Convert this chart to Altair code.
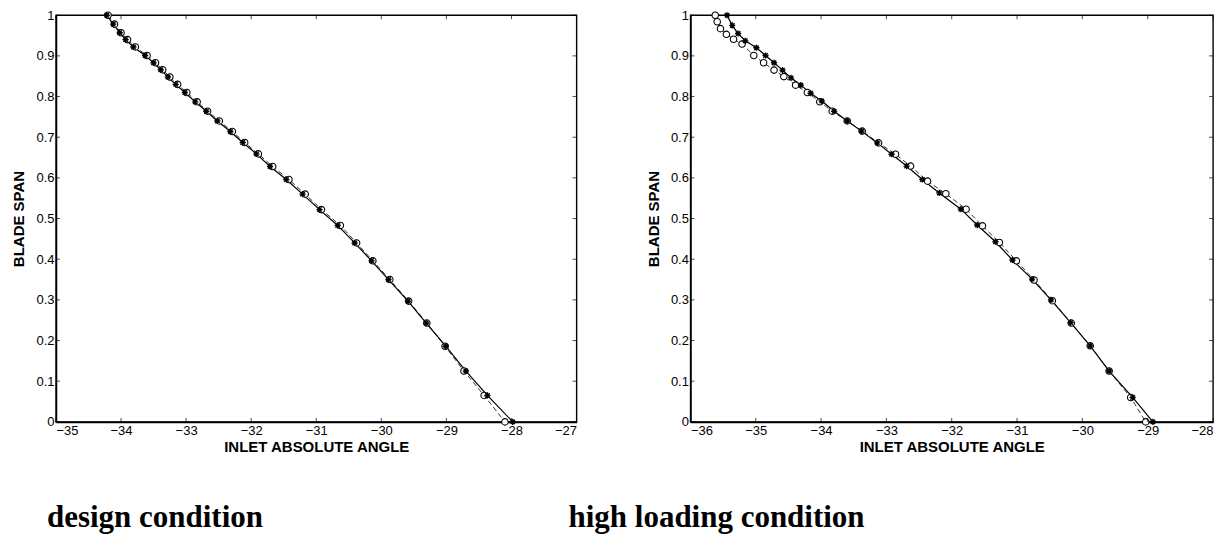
import altair as alt
import pandas as pd

# ---------------- data ----------------
# design condition
left_y = [1.0, 0.978, 0.957, 0.94, 0.922, 0.901, 0.883, 0.866, 0.848, 0.83, 0.81,
          0.787, 0.764, 0.74, 0.714, 0.687, 0.659, 0.628, 0.596, 0.56, 0.522,
          0.483, 0.44, 0.396, 0.35, 0.297, 0.243, 0.186, 0.125, 0.065, 0.0]
left_solid_x = [-34.22, -34.12, -34.02, -33.93, -33.81, -33.63, -33.50, -33.39, -33.28,
                -33.16, -33.02, -32.86, -32.69, -32.52, -32.32, -32.13, -31.92, -31.71,
                -31.46, -31.21, -30.95, -30.67, -30.41, -30.15, -29.89, -29.59, -29.31,
                -29.01, -28.70, -28.37, -27.98]
left_dash_x = [-34.20, -34.10, -34.00, -33.90, -33.78, -33.60, -33.47, -33.36, -33.25,
               -33.13, -32.99, -32.83, -32.67, -32.49, -32.29, -32.10, -31.89, -31.67,
               -31.42, -31.17, -30.92, -30.63, -30.38, -30.13, -29.87, -29.58, -29.30,
               -29.02, -28.73, -28.42, -28.10]

# high loading condition
right_solid_y = [1.0, 0.975, 0.955, 0.937, 0.92, 0.901, 0.883, 0.865, 0.846, 0.828,
                 0.808, 0.789, 0.764, 0.74, 0.715, 0.686, 0.658, 0.629, 0.596, 0.563,
                 0.523, 0.484, 0.443, 0.398, 0.351, 0.30, 0.244, 0.187, 0.125, 0.06, 0.0]
right_solid_x = [-35.44, -35.36, -35.27, -35.16, -34.99, -34.85, -34.72, -34.59, -34.46,
                 -34.31, -34.16, -33.99, -33.80, -33.60, -33.38, -33.14, -32.92, -32.69,
                 -32.45, -32.19, -31.86, -31.61, -31.33, -31.07, -30.77, -30.48, -30.18,
                 -29.88, -29.59, -29.23, -28.92]
right_dash_y = [1.0, 0.984, 0.967, 0.953, 0.941, 0.929, 0.901, 0.883, 0.865, 0.849,
                0.828, 0.81, 0.787, 0.764, 0.74, 0.715, 0.686, 0.658, 0.629, 0.592,
                0.561, 0.523, 0.482, 0.441, 0.396, 0.349, 0.298, 0.243, 0.187, 0.125,
                0.06, 0.0]
right_dash_x = [-35.62, -35.59, -35.54, -35.45, -35.34, -35.21, -35.03, -34.88, -34.72,
                -34.57, -34.39, -34.21, -34.02, -33.83, -33.60, -33.37, -33.12, -32.86,
                -32.63, -32.37, -32.09, -31.78, -31.53, -31.27, -31.01, -30.74, -30.46,
                -30.17, -29.88, -29.59, -29.26, -29.03]

left_xticks = [-35, -34, -33, -32, -31, -30, -29, -28, -27]
right_xticks = [-36, -35, -34, -33, -32, -31, -30, -29, -28]
yticks = [0, 0.1, 0.2, 0.3, 0.4, 0.5, 0.6, 0.7, 0.8, 0.9, 1.0]

x_title = "INLET ABSOLUTE ANGLE"
y_title = "BLADE SPAN"
captions = ["design condition", "high loading condition"]

ASTERISK = "M-1,0L1,0M0,-1L0,1M-0.72,-0.72L0.72,0.72M-0.72,0.72L0.72,-0.72"


def panel(solid_x, solid_y, dash_x, dash_y, xticks, caption, dx, width):
    xmin, xmax = xticks[0], xticks[-1]
    solid = pd.DataFrame({"x": solid_x, "y": solid_y})
    dash = pd.DataFrame({"x": dash_x, "y": dash_y})
    xs = alt.Scale(domain=[xmin, xmax], nice=False, zero=False)
    ys = alt.Scale(domain=[0, 1], nice=False, zero=False)
    xenc = alt.X("x:Q", scale=xs, title=x_title,
                 axis=alt.Axis(values=xticks, format="d", grid=False, ticks=False,
                               domain=True, domainColor="black", domainWidth=1.6,
                               labelPadding=3, titlePadding=2))
    yenc = alt.Y("y:Q", scale=ys, title=y_title,
                 axis=alt.Axis(values=yticks, format=".1~f", grid=False, ticks=False,
                               domain=True, domainColor="black", domainWidth=1.6,
                               labelPadding=2, titlePadding=9))
    order = alt.Order("y:Q", sort="descending")

    dash_line = alt.Chart(dash).mark_line(color="#333333", strokeWidth=1,
                                          strokeDash=[5, 3]).encode(x=xenc, y=yenc, order=order)
    solid_line = alt.Chart(solid).mark_line(color="black", strokeWidth=1.2).encode(
        x=xenc, y=yenc, order=order)
    circles = alt.Chart(dash).mark_point(shape="circle", filled=True, color="white",
                                         stroke="black", strokeWidth=1.1, size=42,
                                         opacity=1).encode(x=xenc, y=yenc)
    stars = alt.Chart(solid).mark_point(shape=ASTERISK, filled=False, color="black",
                                        strokeWidth=1.4, size=38, opacity=1).encode(
        x=xenc, y=yenc)

    # small inward tick marks on all four sides (tick values at the frame edges)
    tb = pd.DataFrame({"x": xticks, "y": [0] * len(xticks)})
    tt = pd.DataFrame({"x": xticks, "y": [1] * len(xticks)})
    tl = pd.DataFrame({"x": [xmin] * len(yticks), "y": yticks})
    tr = pd.DataFrame({"x": [xmax] * len(yticks), "y": yticks})
    bottom_t = alt.Chart(tb).mark_tick(orient="vertical", size=4, thickness=1,
                                       color="black", yOffset=-2).encode(x=xenc, y=yenc)
    top_t = alt.Chart(tt).mark_tick(orient="vertical", size=4, thickness=1,
                                    color="black", yOffset=2).encode(x=xenc, y=yenc)
    left_t = alt.Chart(tl).mark_tick(orient="horizontal", size=4, thickness=1,
                                     color="black", xOffset=2).encode(x=xenc, y=yenc)
    right_t = alt.Chart(tr).mark_tick(orient="horizontal", size=4, thickness=1,
                                      color="black", xOffset=-2).encode(x=xenc, y=yenc)

    return alt.layer(dash_line, solid_line, circles, stars,
                     bottom_t, top_t, left_t, right_t).properties(
        width=width, height=407,
        title=alt.TitleParams(caption, orient="bottom", anchor="start", frame="group",
                              dx=dx, offset=48, font="Liberation Serif", fontSize=31,
                              fontWeight="bold", color="black"))


left = panel(left_solid_x, left_y, left_dash_x, left_y, left_xticks, captions[0], -9, 521)
right = panel(right_solid_x, right_solid_y, right_dash_x, right_dash_y, right_xticks,
              captions[1], -122, 523)

chart = alt.hconcat(left, right, spacing=114, bounds="flush").properties(
    padding={"left": 3, "top": 0, "right": 0, "bottom": 0},
    background="white"
).configure_view(stroke="black", strokeWidth=1.4).configure_axis(
    labelFont="Liberation Sans", labelFontSize=13, labelColor="black",
    titleFont="Liberation Sans", titleFontSize=15, titleFontWeight="bold",
    titleColor="black"
)

chart.save("out.html", embed_options={"renderer": "svg", "actions": False})
